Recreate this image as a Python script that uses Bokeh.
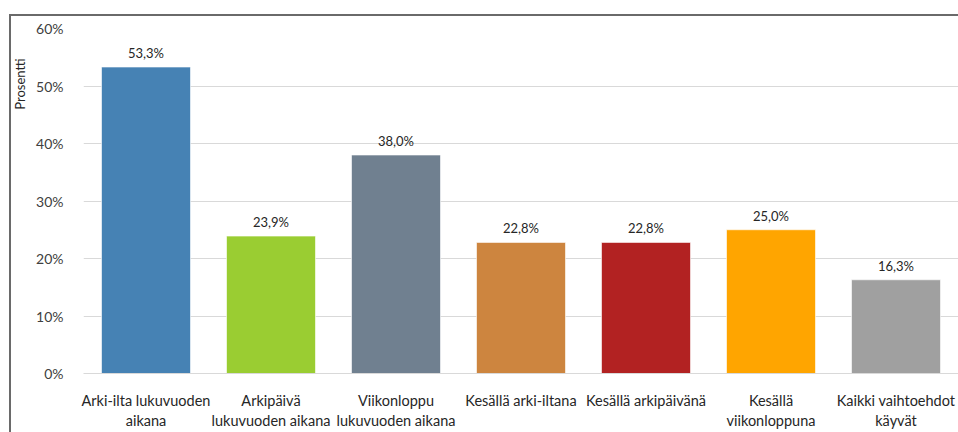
from bokeh.plotting import figure
from bokeh.models import ColumnDataSource, FixedTicker, LabelSet, Title
from bokeh.core.properties import value
from bokeh.embed import file_html
from bokeh.resources import INLINE

categories = [
    "Arki-ilta lukuvuoden\naikana",
    "Arkipäivä\nlukuvuoden aikana",
    "Viikonloppu\nlukuvuoden aikana",
    "Kesällä arki-iltana",
    "Kesällä arkipäivänä",
    "Kesällä\nviikonloppuna",
    "Kaikki vaihtoehdot\nkäyvät",
]
values = [53.3, 23.9, 38.0, 22.8, 22.8, 25.0, 16.3]
colors = ["#4682B4", "#9ACD32", "#708090", "#CD853F", "#B22222", "#FFA500", "#A0A0A0"]
y_ticks = [0, 10, 20, 30, 40, 50, 60]
y_tick_labels = ["0%", "10%", "20%", "30%", "40%", "50%", "60%"]
y_title = "Prosentti"

FONT = "Lato"

labels = [f"{v:.1f}".replace(".", ",") + "%" for v in values]
src = ColumnDataSource(dict(cat=categories, val=values, color=colors, lab=labels))

p = figure(x_range=categories, y_range=(0, 60), width=958, height=432,
           output_backend="svg", toolbar_location=None,
           min_border_left=83, min_border_right=0, min_border_top=28, min_border_bottom=59)
# chart-area border (top and left edges of the cropped Excel chart box)
p.styles = {
    "background": "linear-gradient(#6a6a6a, #6a6a6a) 9px 14px / 100% 2px no-repeat, "
                  "linear-gradient(#6a6a6a, #6a6a6a) 9px 14px / 2px 100% no-repeat, white",
}
p.outline_line_color = None
p.background_fill_color = "white"
p.border_fill_color = None

p.vbar(x="cat", top="val", width=0.712, fill_color="color", line_color="white",
       line_width=1, line_alpha=0.6, source=src)

p.add_layout(LabelSet(x="cat", y="val", text="lab", source=src, text_align="center",
                      text_baseline="bottom", y_offset=6, text_font_size="13px",
                      text_color="#262626", text_font=value(FONT)))

p.xgrid.grid_line_color = None
p.ygrid.grid_line_color = "#d9d9d9"
p.ygrid.grid_line_width = 1
p.yaxis.ticker = FixedTicker(ticks=y_ticks)
p.yaxis.major_label_overrides = {t: l for t, l in zip(y_ticks, y_tick_labels)}
p.yaxis.axis_line_color = None
p.yaxis.major_tick_line_color = None
p.yaxis.minor_tick_line_color = None
p.yaxis.major_label_standoff = 14
p.yaxis.major_label_text_font = FONT
p.yaxis.major_label_text_font_size = "14px"
p.yaxis.major_label_text_color = "#404040"

p.xaxis.axis_line_color = "#d9d9d9"
p.xaxis.major_tick_line_color = None
p.xaxis.minor_tick_line_color = None
p.xaxis.major_tick_out = 0
p.xaxis.major_label_standoff = 18
p.xaxis.major_label_text_font = FONT
p.xaxis.major_label_text_font_size = "14.5px"
p.xaxis.major_label_text_color = "#262626"
p.x_range.range_padding = 0

p.add_layout(Title(text=y_title, align="right", offset=30, text_font=FONT,
                   text_font_size="13px", text_font_style="normal",
                   vertical_align="top",
                   text_color="#262626", standoff=7), "left")

open("out.html", "w").write(file_html(p, INLINE))
